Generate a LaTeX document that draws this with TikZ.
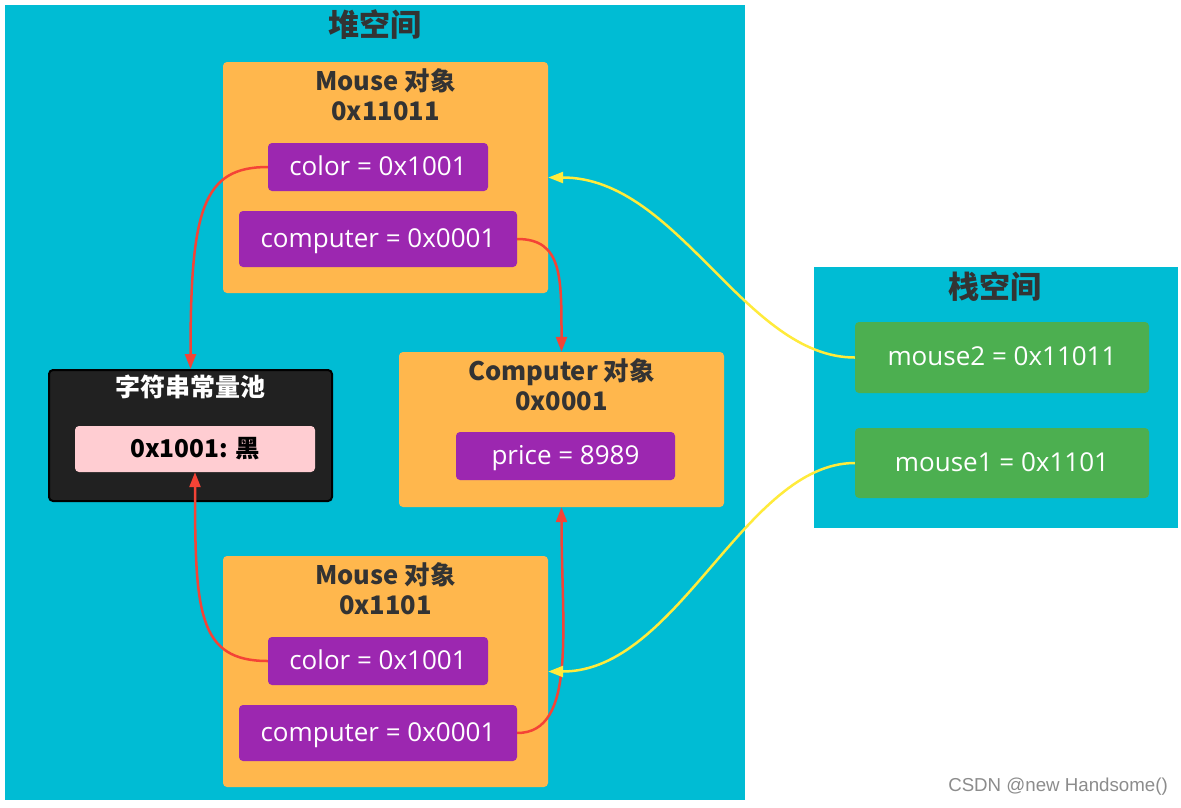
\documentclass[tikz,border=0pt]{standalone}
\usepackage{fontspec}
\setmainfont{Noto Sans CJK SC}
\newfontfamily\wmfont{Liberation Sans}
\newfontfamily\fieldfont{Open Sans}
\usetikzlibrary{arrows.meta}
\definecolor{cyanbg}{HTML}{00BCD4}
\definecolor{orangebg}{HTML}{FFB74D}
\definecolor{purplebg}{HTML}{9C27B0}
\definecolor{darkbg}{HTML}{212121}
\definecolor{pinkbg}{HTML}{FFCDD2}
\definecolor{greenbg}{HTML}{4CAF50}
\definecolor{redline}{HTML}{F44336}
\definecolor{yellowline}{HTML}{FFEB3B}
\definecolor{titletext}{HTML}{333333}
\tikzset{
  area/.style={fill=cyanbg, draw=none, inner sep=0pt},
  objbox/.style={fill=orangebg, draw=none, rounded corners=4pt, inner sep=0pt},
  fieldbox/.style={fill=purplebg, draw=none, rounded corners=4pt, inner sep=0pt, text=white, text height=19pt, text depth=3pt, font=\fieldfont\fontsize{26}{28}\selectfont},
  varbox/.style={fill=greenbg, draw=none, rounded corners=4pt, inner sep=0pt, text=white, text height=19pt, text depth=3pt, font=\fieldfont\fontsize{26}{28}\selectfont},
  titletxt/.style={text=titletext, font=\bfseries\fontsize{25.5}{30}\selectfont, align=center, inner sep=0pt},
  areatitle/.style={text=titletext, font=\bfseries\fontsize{31}{34}\selectfont, inner sep=0pt},
  redarrow/.style={draw=redline, line width=2.5pt, -{Triangle[length=15pt,width=11pt]}},
  yellowarrow/.style={draw=yellowline, line width=2.5pt, -{Triangle[length=15pt,width=11pt]}},
}
\begin{document}
\begin{tikzpicture}[x=1pt,y=-1pt]
\useasboundingbox (0,0) rectangle (1181,807);
\fill[white] (0,0) rectangle (1181,807);
% heap
\node[area, minimum width=740pt, minimum height=795pt] (heap) at (375,402.5) {};
\node[areatitle] (heapt) at (375,25) {堆空间};
% Mouse object 1
\node[objbox, minimum width=325pt, minimum height=231pt] (m1) at (385.5,177.5) {};
\node[titletxt] (m1t) at (385.5,95) {Mouse 对象\\0x11011};
\node[fieldbox, minimum width=220pt, minimum height=48pt] (c1) at (378,167) {color = 0x1001};
\node[fieldbox, minimum width=278pt, minimum height=56pt] (p1) at (378,239) {computer = 0x0001};
% string pool
\node[fill=darkbg, draw=black, line width=2pt, rounded corners=4pt, minimum width=283pt, minimum height=131pt, inner sep=0pt] (pool) at (190.5,435.5) {};
\node[text=white, font=\bfseries\fontsize{25}{28}\selectfont, inner sep=0pt] (poolt) at (190.5,387) {字符串常量池};
\node[fill=pinkbg, rounded corners=4pt, minimum width=240pt, minimum height=46pt, inner sep=0pt, text=black, font=\bfseries\fontsize{24.5}{28}\selectfont] (pink) at (195,449) {0x1001: 黑};
% Computer object
\node[objbox, minimum width=325pt, minimum height=155pt] (comp) at (561.5,429.5) {};
\node[titletxt] (compt) at (561.5,384.5) {Computer 对象\\0x0001};
\node[fieldbox, minimum width=219pt, minimum height=48pt] (price) at (565.5,456) {price = 8989};
% Mouse object 2
\node[objbox, minimum width=325pt, minimum height=231pt] (m2) at (385.5,671.5) {};
\node[titletxt] (m2t) at (385.5,589) {Mouse 对象\\0x1101};
\node[fieldbox, minimum width=220pt, minimum height=48pt] (c2) at (378,661) {color = 0x1001};
\node[fieldbox, minimum width=278pt, minimum height=56pt] (p2) at (378,733) {computer = 0x0001};
% stack
\node[area, minimum width=364pt, minimum height=261pt] (stack) at (996,397.5) {};
\node[areatitle] (stackt) at (995,287) {栈空间};
\node[varbox, minimum width=294pt, minimum height=71pt] (s2) at (1002,357.5) {mouse2 = 0x11011};
\node[varbox, minimum width=294pt, minimum height=70pt] (s1) at (1002,463) {mouse1 = 0x1101};
% watermark
\node[text=black!45, font=\wmfont\fontsize{18.7}{22}\selectfont, anchor=east, inner sep=0pt] (wm) at (1168,787) {CSDN @new Handsome()};
% red connectors
\draw[redarrow] (c1.west) .. controls +(-65,0) and +(0,-160) .. (pool.north);
\draw[redarrow] (p1.east) .. controls +(45,0) and +(0,-75) .. (comp.north);
\draw[redarrow] (c2.west) .. controls +(-70,0) and +(0,140) .. (pink.south);
\draw[redarrow] (p2.east) .. controls +(60,0) and +(0,120) .. (comp.south);
% yellow connectors
\draw[yellowarrow] (s2.west) .. controls +(-110,0) and +(130,0) .. (m1.east);
\draw[yellowarrow] (s1.west) .. controls +(-110,0) and +(130,0) .. (m2.east);
\end{tikzpicture}
\end{document}
